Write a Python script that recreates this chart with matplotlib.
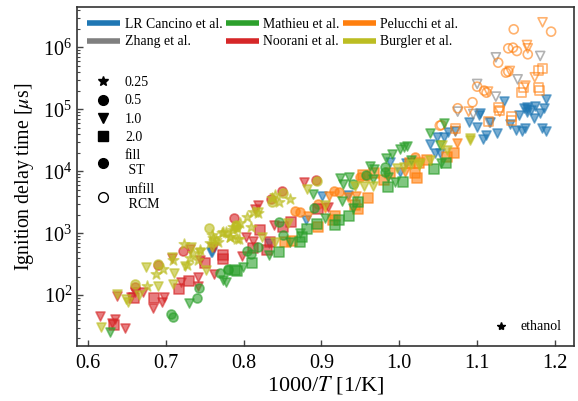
import numpy as np
import matplotlib
matplotlib.use('Agg')
import matplotlib.pyplot as plt
from matplotlib.lines import Line2D

plt.rcParams['font.family'] = ['Liberation Serif', 'DejaVu Serif']
plt.rcParams['mathtext.fontset'] = 'stix'

# x is 1000/T [1/K], t is log10 of the ignition delay in microseconds
# Noorani
noorani_tri_x = [.616, .635, .631, .648, .637, .660, .656, .671, .684, .695, .698, .708, .720, .741, .741, .762, .731, .762,
                 .744, .759, .798, .803, .812, .815, .819, .839, .878, .909]
noorani_tri_t = [1.671, 1.617, 1.548, 1.467, 1.994, 2.058, 1.978, 2.047, 1.789, 1.897, 1.967, 2.596, 2.22, 2.29, 2.15, 2.343, 2.741, 2.784,
                 2.569, 2.784, 2.634, 2.935, 2.876, 3.386, 3.456, 3.134, 3.822, 3.419]
noorani_sq_x = [.633, .659, .685, .717, .730, .751, .774, .774, .821, .851, .861, .834, .812, .830, .896]
noorani_sq_t = [1.52, 1.95, 1.96, 2.10, 2.236, 2.515, 2.65, 2.58, 3.053, 3.096, 3.188, 2.854, 2.757, 2.73, 3.386]
noorani_ci_x = [.722, .690, .660, .788, .835, .849, .893]
noorani_ci_t = [2.714, 2.488, 2.139, 3.241, 3.548, 3.682, 3.86]

# Burgler
burgler_tri_x = [.617, .637, .649, .652, .665, .675, .690, .708, .709, .710, .733, .725, .744, .752, .760, .818, .823, .840, .857,
                 .881, .905, .943, .955, .966, .997, 1.006, 1.027, 1.040, 1.055, 1.061, 1.091, 1.091, 1.015, 1.025]
burgler_tri_t = [1.494, 2.02, 1.935, 1.897, 2.004, 2.461, 2.15, 2.623, 2.182, 2.365, 2.773, 2.472, 2.703, 2.408, 2.784, 3.349, 2.935, 2.865, 3.171,
                 3.709, 3.456, 3.763, 3.763, 3.763, 4.048, 4.075, 4.13, 4.18, 4.424, 4.344, 4.532, 4.50, 4.12, 4.10]
burgler_ci_x = [.660, .690, .756, .790, .790, .836, .850, .894]
burgler_ci_t = [2.176, 2.504, 3.09, 3.096, 3.13, 3.51, 3.655, 3.849]
burgler_st_x = [.723, .687, .676, .696, .709, .735, .744, .731, .742, .757, .761, .765, .772, .783, .791, .759, .778, .727,
                .787, .795, .774, .804, .812, .819, .782, .794, .810, .836, .845, .860, .840, .787, .791, .767]
burgler_st_t = [2.822, 2.343, 2.155, 2.418, 2.569, 2.687, 2.730, 2.596, 2.569, 2.838, 2.918, 2.892, 3.01, 2.945, 2.902, 2.972, 3.026, 2.488,
                3.107, 3.161, 3.026, 3.268, 3.349, 3.322, 2.946, 2.903, 3.096, 3.564, 3.510, 3.548, 3.618, 3.053, 3.08, 2.865]

# Mathieu
mathieu_tri_x = [.628, .730, .777, .774, .889, .924, .935, .928, .926, .904, .860, .833, .872, .799, .940, .963, .968, .983, .990,
                 1.001, 1.006, 1.010, 1.039, 1.058, .966, .995, 1.015, 1.053, .986, 1.052]
mathieu_tri_t = [1.413, 1.87, 2.22, 2.246, 3.634, 3.886, 3.902, 3.795, 3.526, 3.241, 2.865, 2.65, 3.0, 2.451, 3.40, 4.085, 4.042, 4.209, 4.279,
                 4.354, 4.386, 4.408, 4.612, 4.773, 3.87, 3.833, 4.182, 4.128, 3.913, 4.424]
mathieu_ci_x = [.707, .709, .743, .740, .770, .780, .780, .804, .810, .819, .845, .850, .890, .940, .957, .982, .982]
mathieu_ci_t = [1.693, 1.644, 2.112, 1.961, 2.354, 2.408, 2.419, 2.72, 2.666, 2.784, 3.188, 2.973, 3.413, 3.795, 3.94, 4.064, 3.994]
mathieu_sq_x = [.791, .811, .845, .789, .882, .872, .875, .894, .917, .923, .935, .947, 1.005, .985, 1.044, 1.060]
mathieu_sq_t = [2.39, 2.515, 2.693, 2.408, 3.064, 2.865, 2.946, 3.15, 3.134, 3.214, 3.279, 3.51, 3.833, 3.752, 4.032, 4.128]

# LR Cancino
cancino_tri_x = [.758, .759, .880, .901, .934, .833, .988, 1.001, 1.009, 1.04, 1.048, 1.057, 1.063, 1.072, 1.046, 1.052,
                 1.134, 1.189, 1.189, 1.183, 1.161, 1.157, 1.150, 1.142, 1.173, 1.154, 1.164, 1.164, 1.164, 1.174, 1.186, 1.181,
                 1.169, 1.160, 1.117, 1.126, 1.112, 1.108, 1.100, 1.089, 1.104, 1.102]
cancino_tri_t = [2.69, 2.704, 3.214, 3.607, 3.618, 2.85, 4.155, 3.994, 4.128, 4.44, 4.548, 4.559, 4.63, 4.65, 4.29, 4.3,
                 5.134, 5.166, 4.65, 4.704, 4.693, 4.655, 4.666, 4.763, 4.854, 4.908, 5.043, 4.962, 5.0, 5.053, 5.016, 4.935,
                 4.989, 5.016, 4.801, 4.623, 4.586, 4.516, 4.709, 4.801, 4.935, 4.908]

# Zhang, RCM
zhang_tri_x = [1.124, 1.181, 1.152, 1.100, 1.124, 1.075, 1.095, 1.116]
zhang_tri_t = [5.838, 5.86, 5.483, 5.408, 5.204, 4.962, 4.924, 4.785]

# Pelucchi, shock tube
pelucchi_ci_x = [.866, .872, .896, .916, .922, .950, .958, 1.020]
pelucchi_ci_t = [3.365, 3.349, 3.472, 3.682, 3.671, 3.913, 3.924, 4.236]
pelucchi_sq_x = [.853, .862, .896, .917, .915, .947, .960, .943, 1.070, 1.061, 1.020, 1.023, 1.035, 1.025, 1.014, .954, .967, .980, .988]
pelucchi_sq_t = [2.854, 2.881, 3.107, 3.279, 3.214, 3.386, 3.574, 3.456, 4.301, 4.225, 3.967, 3.887, 4.18, 4.14, 4.13, 3.94, 3.967, 3.86, 3.978]
pelucchi_tri_x = [.883, .910, .934, .944, .905, 1.074, 1.007]
pelucchi_tri_t = [3.279, 3.602, 3.59, 3.607, 3.40, 4.462, 3.994]
# Pelucchi, RCM
pelucchi_rcm_ci_x = [1.147, 1.195, 1.140, 1.146, 1.151, 1.165, 1.127, 1.137, 1.140, 1.100, 1.109, 1.112, 1.094, 1.075, 1.052, 1.054]
pelucchi_rcm_ci_t = [6.29, 6.252, 5.983, 5.994, 5.94, 5.887, 5.752, 5.591, 5.607, 5.365, 5.301, 5.268, 5.113, 5.016, 4.736, 4.745]
pelucchi_rcm_tri_x = [1.184, 1.164, 1.165, 1.142, 1.174, 1.162, 1.114, 1.089, 1.129, 1.072]
pelucchi_rcm_tri_t = [6.403, 6.037, 5.983, 5.618, 5.516, 5.381, 5.285, 4.962, 4.962, 4.65]
pelucchi_rcm_sq_x = [1.184, 1.179, 1.159, 1.157, 1.179, 1.180, 1.128, 1.129, 1.144, 1.144, 1.115, 1.072]
pelucchi_rcm_sq_t = [5.661, 5.623, 5.354, 5.268, 5.354, 5.301, 5.032, 4.98, 4.881, 4.817, 4.801, 4.693]

authors = ['LR Cancino et al.', 'Zhang et al.', 'Mathieu et al.', 'Noorani et al.', 'Pelucchi et al.', 'Burgler et al.']
author_colors = ['tab:blue', 'tab:gray', 'tab:green', 'tab:red', 'tab:orange', 'tab:olive']
phi_labels = ['0.25', '0.5', '1.0', '2.0']
phi_markers = ['*', 'o', 'v', 's']


def draw(ax, x, t, marker, color, fill=True):
    y = 10 ** np.array(t)
    size = 62 if marker == '*' else 42
    ax.scatter(x, y, marker=marker, s=size, facecolors=color if fill else 'none',
               edgecolors=color, linewidths=1.2, alpha=0.6)


fig = plt.figure(figsize=(5.78, 4.01), dpi=100)
ax = fig.add_axes([77 / 578, 1 - 346 / 401, 497 / 578, 339 / 401])

draw(ax, cancino_tri_x, cancino_tri_t, 'v', 'tab:blue')
draw(ax, zhang_tri_x, zhang_tri_t, 'v', 'tab:gray', fill=False)
draw(ax, pelucchi_ci_x, pelucchi_ci_t, 'o', 'tab:orange')
draw(ax, pelucchi_sq_x, pelucchi_sq_t, 's', 'tab:orange')
draw(ax, pelucchi_tri_x, pelucchi_tri_t, 'v', 'tab:orange')
draw(ax, pelucchi_rcm_ci_x, pelucchi_rcm_ci_t, 'o', 'tab:orange', fill=False)
draw(ax, pelucchi_rcm_tri_x, pelucchi_rcm_tri_t, 'v', 'tab:orange', fill=False)
draw(ax, pelucchi_rcm_sq_x, pelucchi_rcm_sq_t, 's', 'tab:orange', fill=False)
draw(ax, noorani_tri_x, noorani_tri_t, 'v', 'tab:red')
draw(ax, noorani_sq_x, noorani_sq_t, 's', 'tab:red')
draw(ax, noorani_ci_x, noorani_ci_t, 'o', 'tab:red')
draw(ax, mathieu_tri_x, mathieu_tri_t, 'v', 'tab:green')
draw(ax, mathieu_ci_x, mathieu_ci_t, 'o', 'tab:green')
draw(ax, mathieu_sq_x, mathieu_sq_t, 's', 'tab:green')
draw(ax, burgler_tri_x, burgler_tri_t, 'v', 'tab:olive')
draw(ax, burgler_ci_x, burgler_ci_t, 'o', 'tab:olive')
draw(ax, burgler_st_x, burgler_st_t, '*', 'tab:olive')

ax.set_yscale('log')
ax.set_xlim(0.586, 1.2244)
ax.set_ylim(10 ** 1.18, 10 ** 6.65)
ax.set_xticks([0.6, 0.7, 0.8, 0.9, 1.0, 1.1, 1.2])
ax.set_xlabel(r'1000/$T$ [1/K]', fontsize=16, labelpad=1)
ax.set_ylabel(r'Ignition delay time [$\mu$s]', fontsize=14.3)
ax.yaxis.set_label_coords(-0.083, 0.5)
ax.tick_params(axis='both', which='major', direction='in', labelsize=14.5, length=4, width=1, color='#444444')
ax.tick_params(axis='x', pad=5.5)
ax.tick_params(axis='y', which='minor', direction='in', length=2, width=0.8, color='#444444')
for spine in ax.spines.values():
    spine.set_linewidth(1.2)
    spine.set_color('#333333')

author_handles = [Line2D([], [], color=c, lw=4, solid_capstyle='butt') for c in author_colors]
leg1 = ax.legend(author_handles, authors, loc='upper left', ncol=3, frameon=False, fontsize=9.9,
                 bbox_to_anchor=(-0.004, 1.005), handlelength=2.4, columnspacing=0.25, handletextpad=0.3, labelspacing=0.35)
ax.add_artist(leg1)

marker_handles = [Line2D([], [], color='k', ls='none', marker=m, ms=7) for m in phi_markers]
marker_handles.append(Line2D([], [], color='k', ls='none', marker='o', ms=7))
marker_handles.append(Line2D([], [], color='k', ls='none', marker='o', ms=7, mfc='none'))
leg2 = ax.legend(marker_handles, phi_labels + ['fill\n ST', 'unfill\n RCM'], loc='upper left', frameon=False, fontsize=10,
                 bbox_to_anchor=(0.0, 0.833), labelspacing=0.38, handletextpad=0.55)
ax.add_artist(leg2)

leg3 = ax.legend([Line2D([], [], color='k', ls='none', marker='*', ms=6)], ['ethanol'], loc='lower right',
                 frameon=False, fontsize=10, bbox_to_anchor=(0.999, 0.0), handletextpad=0.4)

fig.savefig('out.png', dpi=100)
